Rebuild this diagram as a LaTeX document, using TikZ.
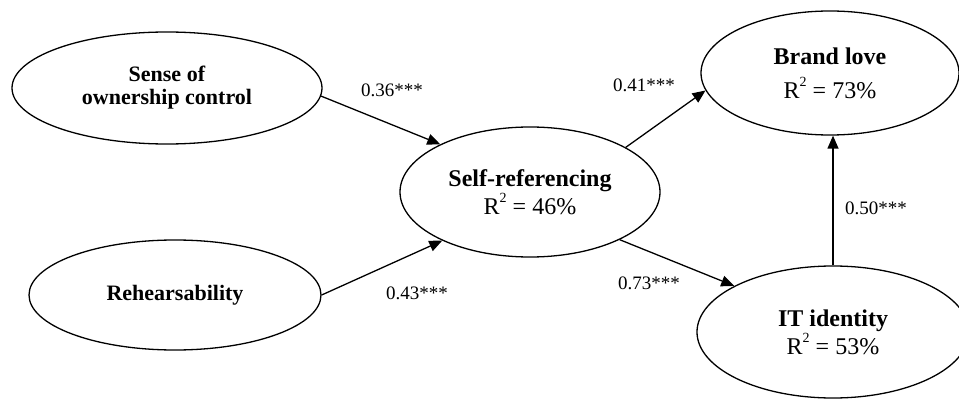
\documentclass[tikz,border=0pt]{standalone}
\usepackage{fontspec}
\setmainfont{Liberation Serif}
\usetikzlibrary{arrows.meta,shapes.geometric}
\tikzset{
  ell/.style={ellipse, draw, line width=1.3pt, inner sep=0pt, align=center},
  big/.style={font=\fontsize{24}{28}\selectfont},
  small/.style={font=\fontsize{22}{23}\selectfont},
  lbl/.style={font=\fontsize{19}{19}\selectfont, inner sep=0pt},
  path/.style={line width=1.3pt, -{Triangle[length=13pt,width=11pt]}}
}
\newcommand{\rsq}[1]{R\raisebox{0.5em}{\fontsize{14}{14}\selectfont 2}\hspace{0.25em}= #1\%}
\begin{document}
\begin{tikzpicture}[x=1pt,y=-1pt]
\useasboundingbox (0,0) rectangle (959,401);
\clip (0,0) rectangle (959,401);
\node[ell, small, minimum width=310pt, minimum height=112pt] (sense) at (167,88)
  {\textbf{Sense of}\\\textbf{ownership control}};
\node[ell, small, minimum width=292pt, minimum height=110pt] (reh) at (175,295)
  {\textbf{Rehearsability}};
\node[ell, big, minimum width=260pt, minimum height=130pt] (self) at (530,192)
  {\textbf{Self-referencing}\\\rsq{46}};
\node[ell, minimum width=258pt, minimum height=124pt, font=\fontsize{24}{34}\selectfont] (brand) at (830,73)
  {\textbf{Brand love}\\\rsq{73}};
\node[ell, big, minimum width=272pt, minimum height=132pt] (it) at (833,332)
  {\textbf{IT identity}\\\rsq{53}};

\draw[path] (sense.-3) -- (self.152);
\draw[path] (reh.east) -- (self.209);
\draw[path] (self.25) -- (brand.188);
\draw[path] (self.-28.5) -- (it.155);
\draw[path] (it.north) -- (it.north |- brand.south);

\node[lbl] (l1) at (392,90) {0.36***};
\node[lbl] (l2) at (417,293) {0.43***};
\node[lbl] (l3) at (644,85) {0.41***};
\node[lbl] (l4) at (649,283) {0.73***};
\node[lbl] (l5) at (876,208) {0.50***};
\end{tikzpicture}
\end{document}
